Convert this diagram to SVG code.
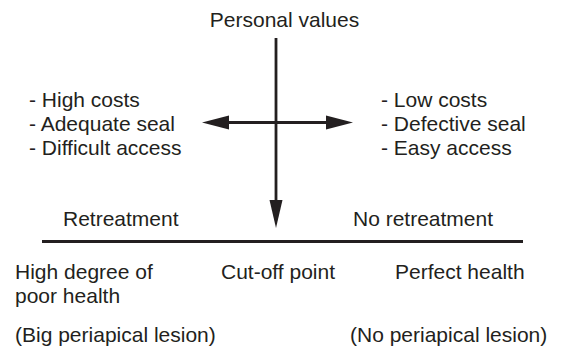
<svg xmlns="http://www.w3.org/2000/svg" width="566" height="352" viewBox="0 0 566 352">
<style>
text{font-family:"Liberation Sans",Arial,sans-serif;font-size:21px;fill:#231f20}
.ln{stroke:#231f20;stroke-width:2.8;fill:none}
.ah{fill:#231f20}
</style>
<rect width="566" height="352" fill="#fff"/>
<g id="connectors">
<line class="ln" x1="276" y1="38" x2="276" y2="203"/>
<polygon class="ah" points="269.5,200 282.5,200 276,228"/>
<line class="ln" x1="228" y1="122.5" x2="327" y2="122.5"/>
<polygon class="ah" points="229,115.5 229,129.5 202,122.5"/>
<polygon class="ah" points="326,115.5 326,129.5 353,122.5"/>
<line class="ln" x1="42" y1="241.5" x2="523" y2="241.5"/>
</g>
<g id="personal-values"><text x="284.5" y="27" text-anchor="middle">Personal values</text></g>
<g id="left-list">
<text x="29" y="107">- High costs</text>
<text x="29" y="131">- Adequate seal</text>
<text x="29" y="155">- Difficult access</text>
</g>
<g id="right-list">
<text x="381" y="107">- Low costs</text>
<text x="381" y="131">- Defective seal</text>
<text x="381" y="155">- Easy access</text>
</g>
<g id="retreatment"><text x="63" y="226">Retreatment</text></g>
<g id="no-retreatment"><text x="353" y="226">No retreatment</text></g>
<g id="poor-health"><text x="15" y="279">High degree of</text><text x="15" y="303">poor health</text></g>
<g id="cutoff"><text x="221" y="279">Cut-off point</text></g>
<g id="perfect-health"><text x="395" y="279">Perfect health</text></g>
<g id="big-lesion"><text x="15" y="342">(Big periapical lesion)</text></g>
<g id="no-lesion"><text x="350" y="342">(No periapical lesion)</text></g>
</svg>
